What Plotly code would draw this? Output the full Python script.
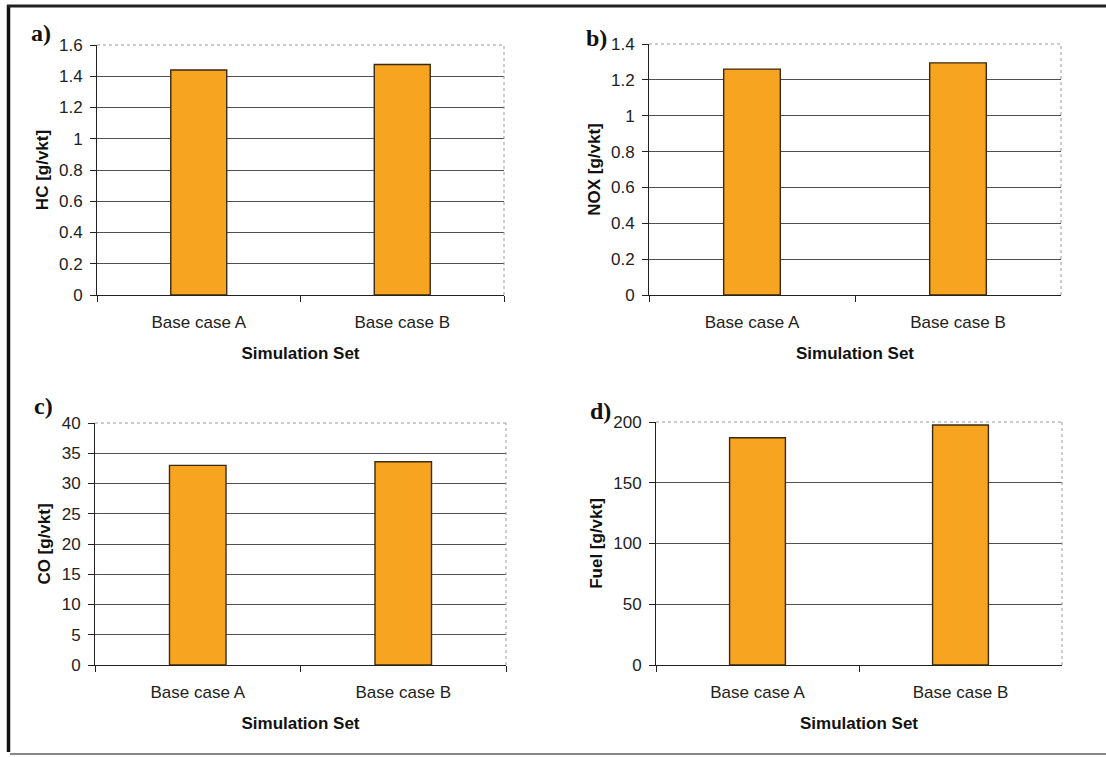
import plotly.graph_objects as go

categories = ["Base case A", "Base case B"]
hc_values = [1.44, 1.475]
nox_values = [1.26, 1.295]
co_values = [33.0, 33.6]
fuel_values = [187.0, 197.5]

panel_labels = ["a)", "b)", "c)", "d)"]
y_titles = ["HC [g/vkt]", "NOX [g/vkt]", "CO [g/vkt]", "Fuel [g/vkt]"]
x_title = "Simulation Set"
y_ranges = [[0, 1.6], [0, 1.4], [0, 40], [0, 200]]
y_dticks = [0.2, 0.2, 5, 50]
series = [hc_values, nox_values, co_values, fuel_values]

W, H = 1106, 757
# plot area boxes in pixels (left, right, top, bottom)
boxes = [(97, 504, 45, 295), (649, 1061, 44, 295), (95, 506, 423, 665), (656, 1062, 422, 665)]
label_pos = [(41, 33), (596, 38), (43, 406), (600, 411)]

fig = go.Figure()
font = "Liberation Sans, Arial, sans-serif"
for i in range(4):
    l, r, t, b = boxes[i]
    xa = "x" if i == 0 else f"x{i+1}"
    ya = "y" if i == 0 else f"y{i+1}"
    fig.add_trace(go.Bar(
        x=categories, y=series[i], width=0.275,
        marker=dict(color="#F7A421", line=dict(color="#3b2a12", width=1.4)),
        xaxis=xa, yaxis=ya, showlegend=False, hoverinfo="x+y"))
    xkey = "xaxis" if i == 0 else f"xaxis{i+1}"
    ykey = "yaxis" if i == 0 else f"yaxis{i+1}"
    fig.layout[xkey] = dict(
        domain=[l / W, r / W], anchor=ya, type="category", range=[-0.5, 1.5],
        automargin=False,
        tickson="boundaries", ticks="outside", ticklen=6, tickcolor="#222",
        showline=True, linecolor="#222", linewidth=1, showgrid=False,
        tickfont=dict(family=font, size=17, color="#222"), ticklabelstandoff=12,
        title=dict(text=f"<b>{x_title}</b>", font=dict(family=font, size=17, color="#111"), standoff=15),
    )
    fig.layout[ykey] = dict(
        domain=[1 - b / H, 1 - t / H], anchor=xa, range=y_ranges[i], dtick=y_dticks[i],
        automargin=False,
        ticks="outside", ticklen=6, tickcolor="#222",
        showline=True, linecolor="#222", linewidth=1,
        showgrid=True, gridcolor="#505050", gridwidth=1, zeroline=False,
        tickfont=dict(family=font, size=17, color="#222"), ticklabelstandoff=4,
        title=dict(text=f"<b>{y_titles[i]}</b>", font=dict(family=font, size=17, color="#111"), standoff=6),
    )
    # light dotted border on top and right of plot area
    fig.add_shape(type="line", xref=f"{xa} domain", yref=f"{ya} domain",
                  x0=0, x1=1, y0=1, y1=1, line=dict(color="#9a9a9a", width=1, dash="dot"))
    fig.add_shape(type="line", xref=f"{xa} domain", yref=f"{ya} domain",
                  x0=1, x1=1, y0=0, y1=1, line=dict(color="#9a9a9a", width=1, dash="dot"))
    lx, ly = label_pos[i]
    fig.add_annotation(text=f"<b>{panel_labels[i]}</b>", xref="paper", yref="paper",
                       x=lx / W, y=1 - ly / H, xanchor="center", yanchor="middle", showarrow=False,
                       font=dict(family="Liberation Serif, Times New Roman, serif", size=24, color="#111"))

# outer frame
fig.add_shape(type="line", xref="paper", yref="paper", x0=8.5 / W, x1=8.5 / W, y0=1 - 5 / H, y1=1 - 752 / H,
              line=dict(color="#111", width=3.5))
fig.add_shape(type="line", xref="paper", yref="paper", x0=7 / W, x1=1, y0=1 - 6 / H, y1=1 - 6 / H,
              line=dict(color="#222", width=3))
fig.add_shape(type="line", xref="paper", yref="paper", x0=10 / W, x1=1, y0=1 - 754 / H, y1=1 - 754 / H,
              line=dict(color="#888", width=2))

fig.update_layout(width=W, height=H, margin=dict(l=0, r=0, t=0, b=0, autoexpand=False),
                  plot_bgcolor="white", paper_bgcolor="white", bargap=0.7)
fig.write_html("out.html")
